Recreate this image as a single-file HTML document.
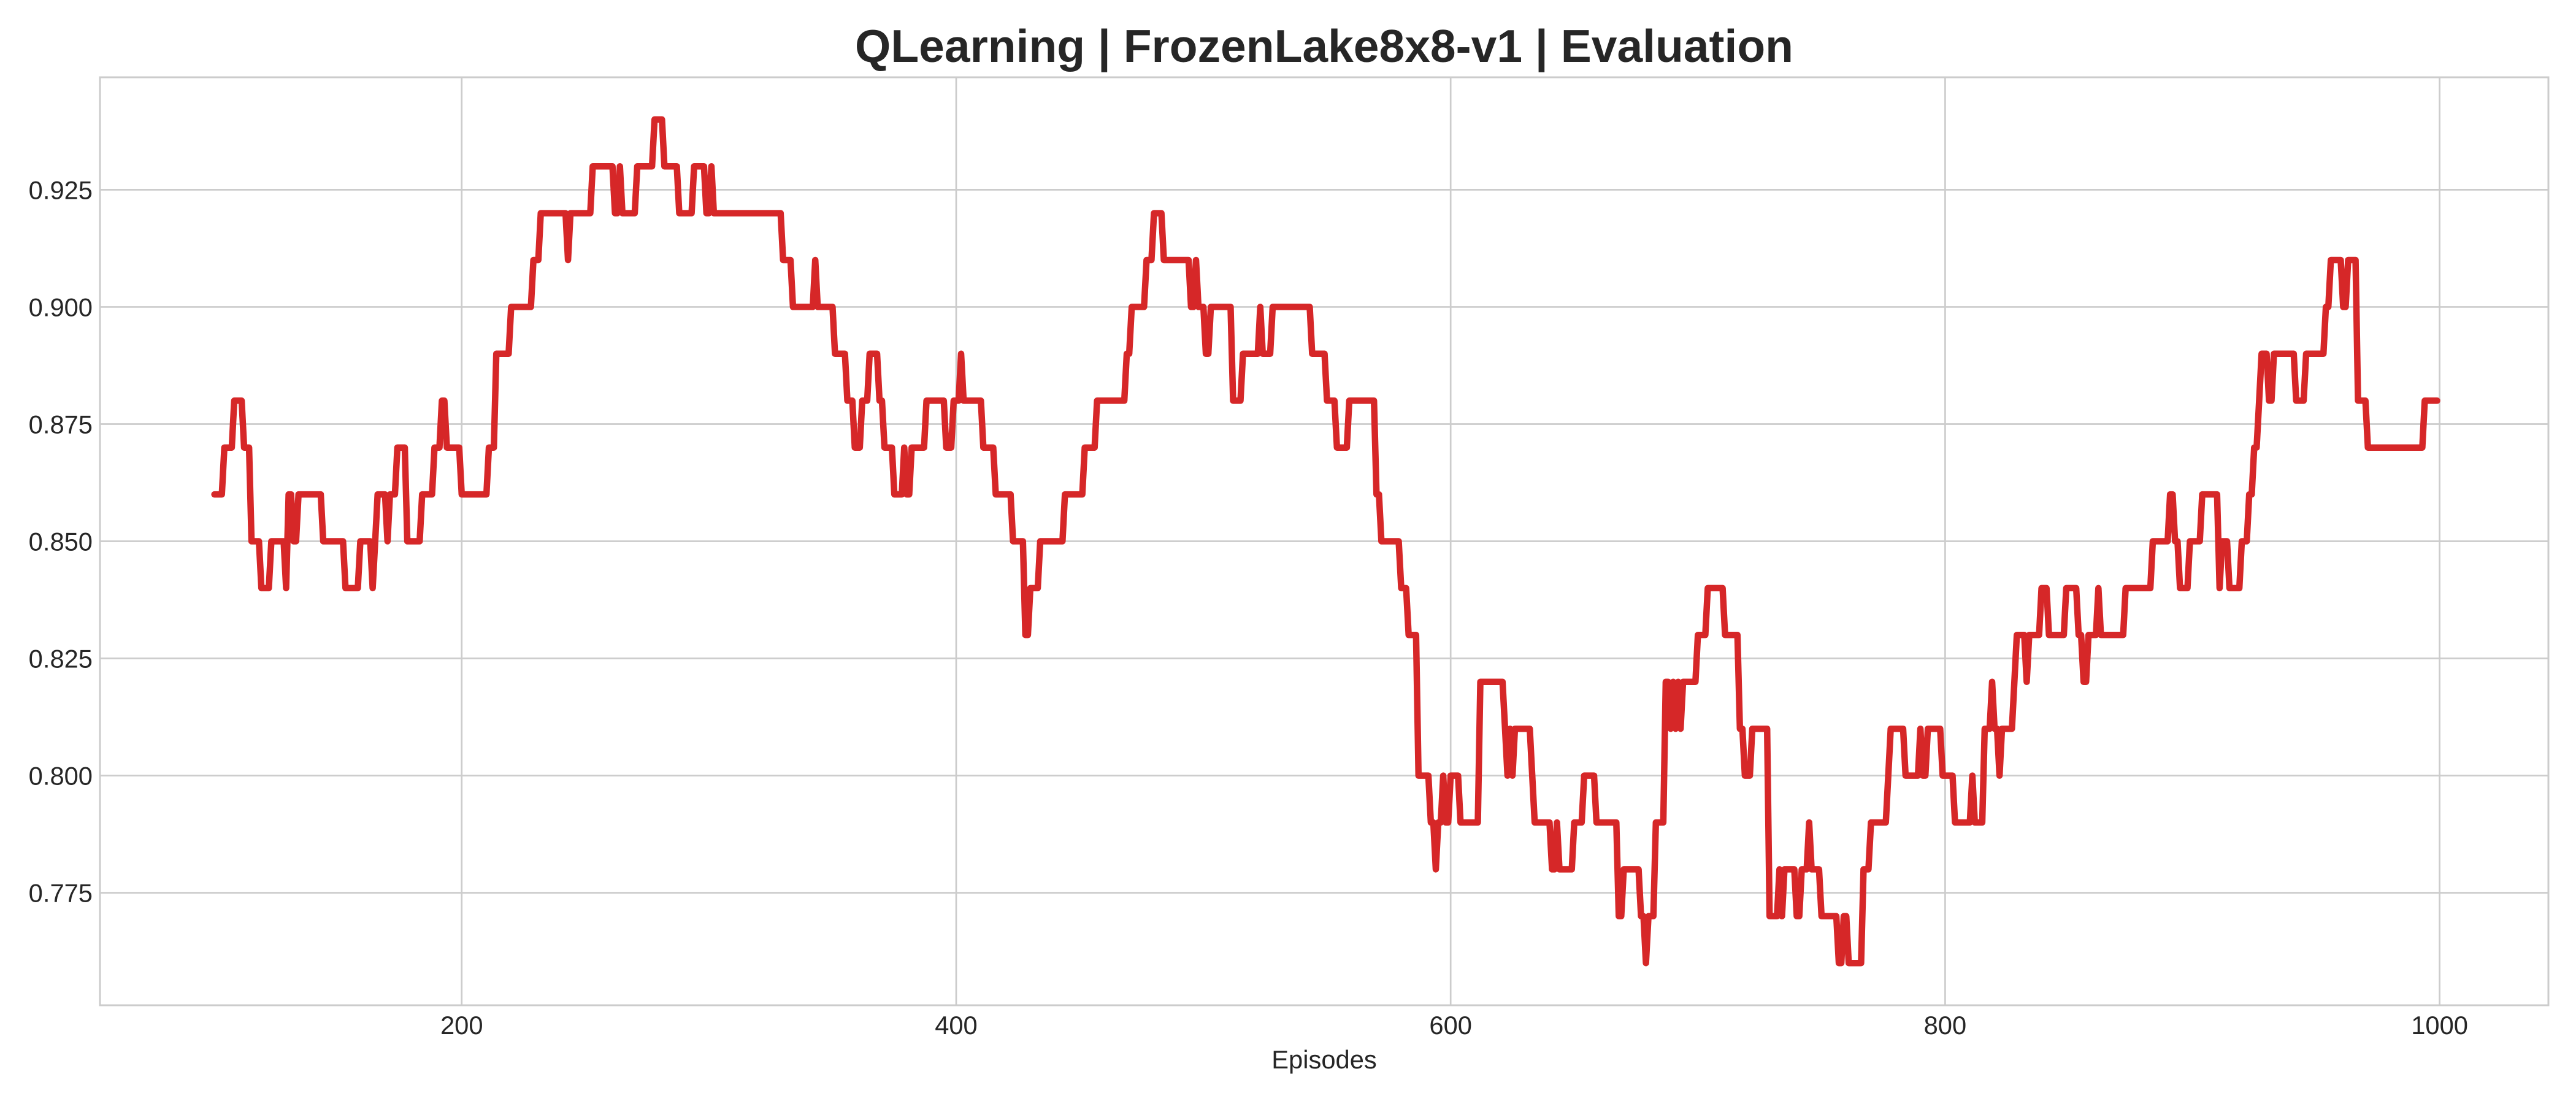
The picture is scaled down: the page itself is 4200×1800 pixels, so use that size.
<!DOCTYPE html>
<html><head><meta charset="utf-8">
<style>
html,body{margin:0;padding:0;background:#fff;}
svg{display:block;font-family:"Liberation Sans",Arial,sans-serif;}
</style></head>
<body>
<svg id="chart" width="4200" height="1800" viewBox="0 0 4200 1800" xmlns="http://www.w3.org/2000/svg">
<rect width="4200" height="1800" fill="#fff"/>
<text x="2159" y="101" text-anchor="middle" font-size="75" font-weight="bold" fill="#262626">QLearning | FrozenLake8x8-v1 | Evaluation</text>
<g id="grid"></g>
<g id="series"></g>
<rect x="163" y="126" width="3992" height="1513" fill="none" stroke="#cccccc" stroke-width="3"/>
<g id="xticks"></g>
<g id="yticks"></g>
<text x="2159" y="1742" text-anchor="middle" font-size="41.7" fill="#262626">Episodes</text>
</svg>
<script>
const runStart = [100,104,108,112,115,119,123,129,130,132,134,144,153,159,164,165,166,170,171,174,178,184,189,192,194,200,211,214,220,229,232,243,244,253,262,264,265,271,278,282,288,294,299,301,302,330,334,343,344,351,356,359,362,365,369,371,375,379,380,382,388,396,399,402,403,411,416,423,428,430,434,444,452,457,469,471,477,480,484,495,497,498,501,503,512,516,523,524,528,544,550,554,559,570,572,580,583,587,592,594,595,597,598,600,604,612,622,623,624,625,626,633,634,641,643,644,650,654,659,668,670,677,679,680,683,687,689,690,691,692,693,694,700,704,711,717,719,722,729,733,734,735,740,742,745,746,750,757,759,761,767,770,777,778,784,790,791,793,799,804,811,812,816,819,820,822,823,828,829,833,834,839,842,849,854,856,858,862,863,873,884,891,893,895,899,904,911,912,915,920,923,925,927,928,931,933,942,946,954,956,961,963,967,971,994];
const runValue = [0.86,0.87,0.88,0.87,0.85,0.84,0.85,0.84,0.86,0.85,0.86,0.85,0.84,0.85,0.84,0.85,0.86,0.85,0.86,0.87,0.85,0.86,0.87,0.88,0.87,0.86,0.87,0.89,0.90,0.91,0.92,0.91,0.92,0.93,0.92,0.93,0.92,0.93,0.94,0.93,0.92,0.93,0.92,0.93,0.92,0.91,0.90,0.91,0.90,0.89,0.88,0.87,0.88,0.89,0.88,0.87,0.86,0.87,0.86,0.87,0.88,0.87,0.88,0.89,0.88,0.87,0.86,0.85,0.83,0.84,0.85,0.86,0.87,0.88,0.89,0.90,0.91,0.92,0.91,0.90,0.91,0.90,0.89,0.90,0.88,0.89,0.90,0.89,0.90,0.89,0.88,0.87,0.88,0.86,0.85,0.84,0.83,0.80,0.79,0.78,0.79,0.80,0.79,0.80,0.79,0.82,0.81,0.80,0.81,0.80,0.81,0.80,0.79,0.78,0.79,0.78,0.79,0.80,0.79,0.77,0.78,0.77,0.76,0.77,0.79,0.82,0.81,0.82,0.81,0.82,0.81,0.82,0.83,0.84,0.83,0.81,0.80,0.81,0.77,0.78,0.77,0.78,0.77,0.78,0.79,0.78,0.77,0.76,0.77,0.76,0.78,0.79,0.80,0.81,0.80,0.81,0.80,0.81,0.80,0.79,0.80,0.79,0.81,0.82,0.81,0.80,0.81,0.82,0.83,0.82,0.83,0.84,0.83,0.84,0.83,0.82,0.83,0.84,0.83,0.84,0.85,0.86,0.85,0.84,0.85,0.86,0.84,0.85,0.84,0.85,0.86,0.87,0.88,0.89,0.88,0.89,0.88,0.89,0.90,0.91,0.90,0.91,0.88,0.87,0.88];
const lastEpisode = 999;
const xTickValues = [200,400,600,800,1000];
const xTickLabels = ["200","400","600","800","1000"];
const yTickValues = [0.775,0.8,0.825,0.85,0.875,0.9,0.925];
const yTickLabels = ["0.775","0.800","0.825","0.850","0.875","0.900","0.925"];

const NS = "http://www.w3.org/2000/svg";
const L = 163, R = 4155, T = 126, B = 1639;
const xmin = 53.7, xmax = 1044.0;
const allV = runValue;
const vmin = Math.min(...allV), vmax = Math.max(...allV);
const pad = (vmax - vmin) * 0.05;
const ymin = vmin - pad, ymax = vmax + pad;
function xs(e){ return L + (e - xmin) / (xmax - xmin) * (R - L); }
function ys(v){ return B - (v - ymin) / (ymax - ymin) * (B - T); }
function mk(tag, attrs, parent){ const el = document.createElementNS(NS, tag); for (const k in attrs) el.setAttribute(k, attrs[k]); parent.appendChild(el); return el; }

const grid = document.getElementById('grid');
const xt = document.getElementById('xticks');
const yt = document.getElementById('yticks');
xTickValues.forEach((v, i) => {
  const g = mk('line', {x1: xs(v), x2: xs(v), y1: T, y2: B, stroke: '#cccccc', 'stroke-width': 2.7}, grid);
  
  
  const t = mk('text', {x: xs(v), y: 1686, 'text-anchor': 'middle', 'font-size': 41.7, fill: '#262626'}, xt);
  t.textContent = xTickLabels[i];
  
  
});
yTickValues.forEach((v, i) => {
  const g = mk('line', {x1: L, x2: R, y1: ys(v), y2: ys(v), stroke: '#cccccc', 'stroke-width': 2.7}, grid);
  
  
  const t = mk('text', {x: 151, y: ys(v) + 15, 'text-anchor': 'end', 'font-size': 41.7, fill: '#262626'}, yt);
  t.textContent = yTickLabels[i];
  
  
});

const pts = [];
for (let i = 0; i < runStart.length; i++) {
  const s = runStart[i];
  const e = (i + 1 < runStart.length) ? runStart[i + 1] - 1 : lastEpisode;
  pts.push([xs(s), ys(runValue[i])]);
  if (e > s) pts.push([xs(e), ys(runValue[i])]);
}
const line = mk('polyline', {points: pts.map(p => p[0].toFixed(1) + ',' + p[1].toFixed(1)).join(' '), fill: 'none', stroke: '#d62728', 'stroke-width': 10.5, 'stroke-linejoin': 'round', 'stroke-linecap': 'round'}, document.getElementById('series'));


</script>
</body></html>
